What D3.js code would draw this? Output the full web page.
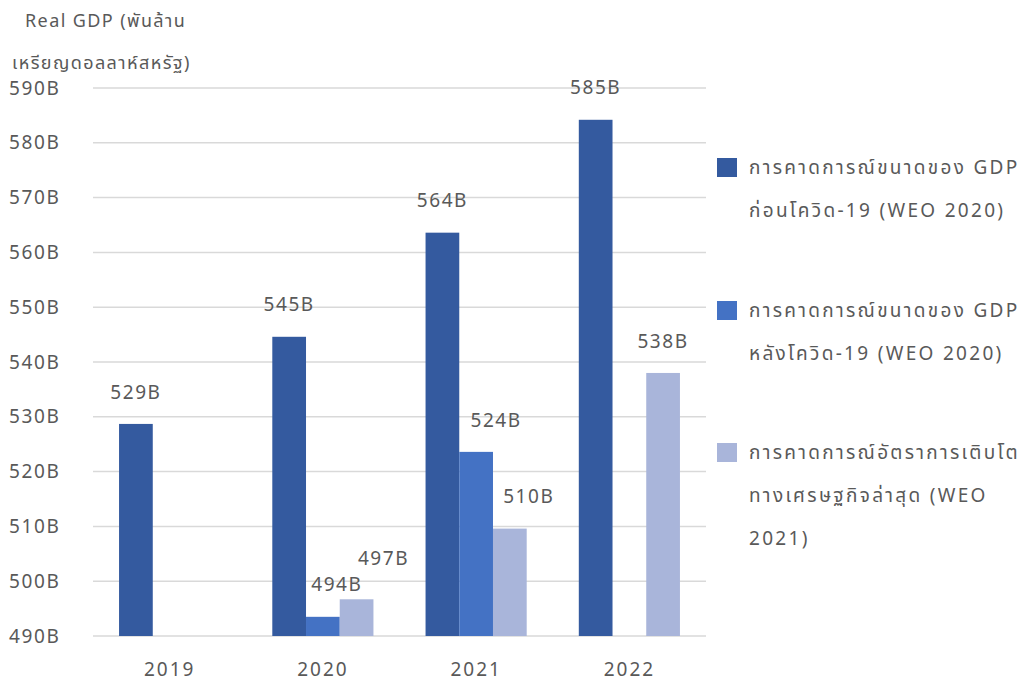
<!DOCTYPE html>
<html>
<head>
<meta charset="utf-8">
<script src="https://cdn.jsdelivr.net/npm/d3@7"></script>
<style>
  body { margin: 0; background: #fff; }
  svg text { font-family: "Noto Sans Thai", "Noto Sans", "DejaVu Sans", sans-serif; fill: #595959; }
</style>
</head>
<body>
<div id="chart"></div>
<script>
const years = ['2019', '2020', '2021', '2022']
const seriesNames = [
  ['การคาดการณ์ขนาดของ GDP', 'ก่อนโควิด-19 (WEO 2020)'],
  ['การคาดการณ์ขนาดของ GDP', 'หลังโควิด-19 (WEO 2020)'],
  ['การคาดการณ์อัตราการเติบโต', 'ทางเศรษฐกิจล่าสุด (WEO', '2021)']
]
// Balkenhöhen, Beschriftungen wie angezeigt
const preCovid = [528.7, 544.6, 563.6, 584.2]
const postCovid = [null, 493.5, 523.6, null]
const latest = [null, 496.7, 509.6, 538.0]
const preCovidLabels = ['529B', '545B', '564B', '585B']
const postCovidLabels = [null, '494B', '524B', null]
const latestLabels = [null, '497B', '510B', '538B']
const yTicks = [490, 500, 510, 520, 530, 540, 550, 560, 570, 580, 590]
const colors = ['#345a9f', '#4472c4', '#a9b5da']

// manuelle Verschiebungen einzelner Beschriftungen (wie im Original)
const labelShift = {
  '1-1': [14, 0],
  '2-1': [27, -9],
  '1-2': [20, 0],
  '2-2': [19, 0]
}

const width = 1027
const height = 686
const margin = {top: 88, right: 321, bottom: 50, left: 93}

const svg = d3.select('#chart').append('svg')
  .attr('width', width)
  .attr('height', height)

const x = d3.scaleBand()
  .domain(years)
  .range([margin.left, width - margin.right])

const xInner = d3.scaleBand()
  .domain([0, 1, 2])
  .range([0, x.bandwidth() * 0.66])

const y = d3.scaleLinear()
  .domain([490, 590])
  .range([height - margin.bottom, margin.top])

// Gitterlinien
svg.append('g')
  .selectAll('line')
  .data(yTicks)
  .join('line')
  .attr('x1', margin.left)
  .attr('x2', width - margin.right)
  .attr('y1', d => y(d))
  .attr('y2', d => y(d))
  .attr('stroke', '#d9d9d9')
  .attr('stroke-width', 1.5)

// y-Achse
svg.append('g')
  .selectAll('text')
  .data(yTicks)
  .join('text')
  .attr('x', 9)
  .attr('y', d => y(d))
  .attr('dy', '0.35em')
  .attr('font-size', 19)
  .attr('letter-spacing', 1.6)
  .text(d => d + 'B')

// x-Achse
svg.append('g')
  .attr('transform', `translate(0,${height - margin.bottom})`)
  .call(d3.axisBottom(x).tickSize(0).tickPadding(27))
  .call(g => g.select('.domain').remove())
  .call(g => g.selectAll('text')
    .attr('font-size', 19)
    .attr('letter-spacing', 2)
    .attr('fill', '#595959'))

// Titel
svg.append('text').attr('x', 25).attr('y', 27).attr('font-size', 18).attr('letter-spacing', 1.4).text('Real GDP (พันล้าน')
svg.append('text').attr('x', 12).attr('y', 69).attr('font-size', 18).attr('letter-spacing', 1.4).text('เหรียญดอลลาห์สหรัฐ)')

const series = [preCovid, postCovid, latest]
const seriesLabels = [preCovidLabels, postCovidLabels, latestLabels]
const bars = []
series.forEach((values, s) => {
  values.forEach((v, i) => {
    if (v !== null) bars.push({s, i, v, label: seriesLabels[s][i]})
  })
})

const groupOffset = x.bandwidth() * 0.17

svg.append('g')
  .selectAll('rect')
  .data(bars)
  .join('rect')
  .attr('x', d => x(years[d.i]) + groupOffset + xInner(d.s))
  .attr('width', xInner.bandwidth())
  .attr('y', d => y(d.v))
  .attr('height', d => y(490) - y(d.v))
  .attr('fill', d => colors[d.s])

svg.append('g')
  .selectAll('text')
  .data(bars)
  .join('text')
  .attr('x', d => {
    const shift = labelShift[`${d.s}-${d.i}`] || [0, 0]
    return x(years[d.i]) + groupOffset + xInner(d.s) + xInner.bandwidth() / 2 + shift[0]
  })
  .attr('y', d => {
    const shift = labelShift[`${d.s}-${d.i}`] || [0, 0]
    return y(d.v) - 32 + shift[1]
  })
  .attr('dy', '0.35em')
  .attr('text-anchor', 'middle')
  .attr('font-size', 19)
  .attr('letter-spacing', 1.6)
  .text(d => d.label)

// Legende
const legendTop = [167, 310, 452]
const legend = svg.append('g')
  .selectAll('g')
  .data(seriesNames)
  .join('g')
  .attr('transform', (d, i) => `translate(717,${legendTop[i]})`)

legend.append('rect')
  .attr('y', -9)
  .attr('width', 20)
  .attr('height', 19)
  .attr('fill', (d, i) => colors[i])

legend.selectAll('text')
  .data(d => d)
  .join('text')
  .attr('x', 32)
  .attr('y', (d, j) => j * 43)
  .attr('dy', '0.35em')
  .attr('font-size', 19)
  .attr('letter-spacing', 2.3)
  .text(d => d)
</script>
</body>
</html>
